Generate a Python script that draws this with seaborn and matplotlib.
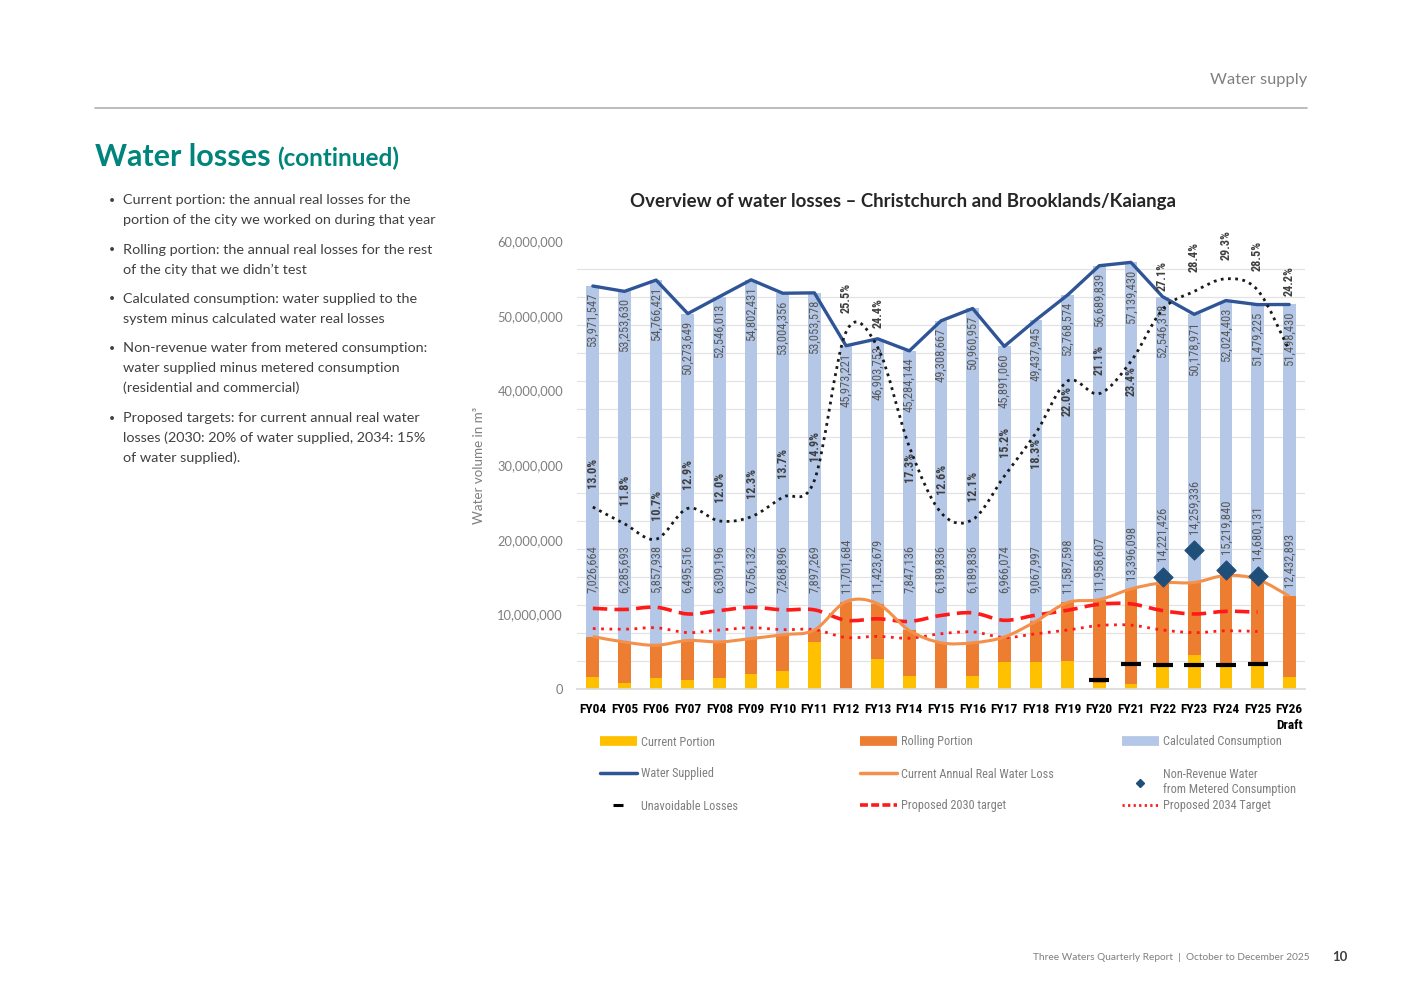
import numpy as np
import pandas as pd
import matplotlib
matplotlib.use("Agg")
import matplotlib.pyplot as plt
from matplotlib.path import Path
from matplotlib.patches import PathPatch
from matplotlib.lines import Line2D
from matplotlib.ticker import MultipleLocator, FuncFormatter
from matplotlib import font_manager as fm
import seaborn as sns

# ---------------- data ----------------
years = ["FY04", "FY05", "FY06", "FY07", "FY08", "FY09", "FY10", "FY11", "FY12",
         "FY13", "FY14", "FY15", "FY16", "FY17", "FY18", "FY19", "FY20", "FY21",
         "FY22", "FY23", "FY24", "FY25", "FY26\nDraft"]

water_supplied = [53971547, 53253630, 54766421, 50273649, 52546013, 54802431,
                  53004356, 53053578, 45973221, 46903753, 45284144, 49308667,
                  50960957, 45891060, 49437945, 52768574, 56689839, 57139430,
                  52546318, 50178971, 52024403, 51479225, 51498430]

real_loss = [7026664, 6285693, 5857938, 6495516, 6309196, 6756132, 7268896,
             7897269, 11701684, 11423679, 7847136, 6189836, 6189836, 6966074,
             9067997, 11587598, 11958607, 13396098, 14221426, 14259336,
             15219840, 14680131, 12432893]

current_portion = [1.65e6, 0.85e6, 1.5e6, 1.2e6, 1.5e6, 2.0e6, 2.45e6, 6.25e6,
                   0.0, 4.0e6, 1.8e6, 0.0, 1.8e6, 3.6e6, 3.6e6, 3.75e6, 0.8e6,
                   0.7e6, 3.0e6, 4.55e6, 3.0e6, 3.4e6, 1.55e6]

loss_pct = [13.0, 11.8, 10.7, 12.9, 12.0, 12.3, 13.7, 14.9, 25.5, 24.4, 17.3,
            12.6, 12.1, 15.2, 18.3, 22.0, 21.1, 23.4, 27.1, 28.4, 29.3, 28.5, 24.2]

nan = np.nan
non_revenue = [nan] * 18 + [15.0e6, 18.6e6, 15.9e6, 15.1e6, nan]
unavoidable = [nan] * 16 + [1.2e6, 3.35e6, 3.2e6, 3.2e6, 3.2e6, 3.35e6, nan]

target_2030 = [10.8e6, 10.65e6, 10.95e6, 10.05e6, 10.5e6, 10.95e6, 10.6e6, 10.6e6,
               9.2e6, 9.4e6, 9.05e6, 9.85e6, 10.2e6, 9.2e6, 9.9e6, 10.55e6,
               11.35e6, 11.4e6, 10.5e6, 10.05e6, 10.4e6, 10.3e6, nan]
target_2034 = [8.1e6, 8.0e6, 8.2e6, 7.55e6, 7.9e6, 8.2e6, 7.95e6, 7.95e6,
               6.9e6, 7.05e6, 6.8e6, 7.4e6, 7.65e6, 6.9e6, 7.4e6, 7.9e6,
               8.5e6, 8.55e6, 7.9e6, 7.55e6, 7.8e6, 7.7e6, nan]

df = pd.DataFrame({
    "year": years,
    "supplied": water_supplied,
    "loss": real_loss,
    "current": current_portion,
    "pct": loss_pct,
    "nrw": non_revenue,
    "unavoidable": unavoidable,
    "t2030": target_2030,
    "t2034": target_2034,
})
df["pos"] = np.arange(len(df))

# ---------------- styling ----------------
YELLOW = "#FFC000"
ORANGE_BAR = "#ED7D31"
LIGHT_BLUE = "#B4C7E7"
BLUE_LINE = "#2F5597"
ORANGE_LINE = "#F4904A"
NAVY = "#1F4E79"
RED = "#FF1A1A"
TEAL = "#00857C"

sns.set_theme(style="white")
names = {f.name for f in fm.fontManager.ttflist}
NARROW = next((n for n in ["Liberation Sans Narrow", "Roboto Condensed",
                           "Open Sans Condensed", "DejaVu Sans"] if n in names), "DejaVu Sans")
BODY = "Lato" if "Lato" in names else "DejaVu Sans"
plt.rcParams["font.family"] = [BODY, "DejaVu Sans"]

W, H = 1401, 991
fig = plt.figure(figsize=(W / 100, H / 100), dpi=100)
fig.patch.set_facecolor("white")


def fx(px):
    return px / W


def fy(py):
    return 1 - py / H


AX_L, AX_R, AX_B, AX_T = 577, 1305, 689, 241
ax = fig.add_axes([fx(AX_L), fy(AX_B), fx(AX_R) - fx(AX_L), fy(AX_T) - fy(AX_B)])
ax.set_facecolor("none")
AX_HPX = AX_B - AX_T

# ---------------- bars (stacked by overlay) ----------------
bw = 0.40
sns.barplot(data=df, x="year", y="supplied", order=years, color=LIGHT_BLUE,
            saturation=1, width=bw, errorbar=None, linewidth=0, ax=ax, zorder=2)
sns.barplot(data=df, x="year", y="loss", order=years, color=ORANGE_BAR,
            saturation=1, width=bw, errorbar=None, linewidth=0, ax=ax, zorder=2)
sns.barplot(data=df, x="year", y="current", order=years, color=YELLOW,
            saturation=1, width=bw, errorbar=None, linewidth=0, ax=ax, zorder=2)

YMAX = 60e6
PMAX = 32
ax.set_xlim(-0.5, len(years) - 0.5)
ax.set_ylim(0, YMAX)


# ---------------- smoothed lines ----------------
def smooth_path(xs, ys):
    pts = np.column_stack([xs, ys])
    pts = pts[~np.isnan(pts[:, 1])]
    verts = [pts[0]]
    codes = [Path.MOVETO]
    n = len(pts)
    for i in range(n - 1):
        p0 = pts[i - 1] if i > 0 else pts[i]
        p1 = pts[i]
        p2 = pts[i + 1]
        p3 = pts[i + 2] if i + 2 < n else pts[i + 1]
        c1 = p1 + (p2 - p0) / 6.0
        c2 = p2 - (p3 - p1) / 6.0
        verts += [c1, c2, p2]
        codes += [Path.CURVE4] * 3
    return Path(verts, codes)


def add_smooth(axis, xs, ys, **kw):
    patch = PathPatch(smooth_path(np.asarray(xs, float), np.asarray(ys, float)),
                      fill=False, **kw)
    axis.add_patch(patch)
    return patch


add_smooth(ax, df["pos"], df["t2030"], edgecolor=RED, lw=2.6,
           linestyle=(0, (4, 2)), capstyle="butt", zorder=4)
add_smooth(ax, df["pos"], df["t2034"], edgecolor=RED, lw=2.0,
           linestyle=(0, (1, 2)), zorder=4)
add_smooth(ax, df["pos"], df["loss"], edgecolor=ORANGE_LINE, lw=2.2, zorder=4)

sns.lineplot(x=df["pos"], y=df["supplied"], color=BLUE_LINE, lw=2.4, ax=ax,
             zorder=5, sort=False)

# markers
sns.scatterplot(x=df["pos"], y=df["nrw"], marker="D", s=95, color=NAVY,
                edgecolor=NAVY, ax=ax, zorder=6)
ax.plot(df["pos"], df["unavoidable"], ls="none", marker="_", ms=15, mew=3,
        color="black", zorder=6)

# ---------------- data labels ----------------
LBL = "#595959"
LBL_FS = 9.0
SUP_GAP = 5       # points below bar top
SUP_LEN = 56      # approx px length of supplied label
for i, r in df.iterrows():
    ax.annotate(f"{int(r.supplied):,}", xy=(r.pos, r.supplied), xytext=(0, -SUP_GAP),
                textcoords="offset points", rotation=90, ha="right", va="center",
                rotation_mode="anchor", fontsize=LBL_FS, color=LBL,
                family=[NARROW, "DejaVu Sans"], zorder=3)
    start = max(12.9e6, r.loss + 1.2e6)
    if not np.isnan(r.nrw):
        start = max(start, r.nrw + 2.2e6)
    ax.text(r.pos, start, f"{int(r.loss):,}", rotation=90, ha="left", va="center",
            rotation_mode="anchor", fontsize=LBL_FS, color=LBL,
            family=[NARROW, "DejaVu Sans"], zorder=3)

# ---------------- secondary axis: percentage ----------------
ax2 = ax.twinx()
ax2.set_ylim(0, PMAX)
ax2.set_yticks([])
for s in ax2.spines.values():
    s.set_visible(False)
add_smooth(ax2, df["pos"], df["pct"], edgecolor="#1a1a1a", lw=2.0,
           linestyle=(0, (1, 1.6)), zorder=5)

# percentage labels: above the point, moved away from the bar-top label
PCT_GAP = 19   # px
PCT_LEN = 28   # px
for i, r in df.iterrows():
    h_pt = r.pct / PMAX * AX_HPX
    h_top = r.supplied / YMAX * AX_HPX
    sup_hi = h_top - SUP_GAP * 1.39
    sup_lo = sup_hi - SUP_LEN
    lo, hi = h_pt + PCT_GAP, h_pt + PCT_GAP + PCT_LEN
    if hi > sup_lo - 4 and lo < sup_hi + 4:
        if h_pt < sup_lo:
            off_px = -(PCT_GAP - 12) - PCT_LEN   # below the point
            off_px = -7 - PCT_LEN
        else:
            off_px = (h_top + 8) - h_pt          # above the bar
    else:
        off_px = PCT_GAP
    ax2.annotate(f"{r.pct:.1f}%", xy=(r.pos, r.pct), xytext=(0, off_px * 0.72),
                 textcoords="offset points", rotation=90, ha="left", va="center",
                 rotation_mode="anchor", fontsize=8.8, fontweight="bold",
                 color="#404040", family=[NARROW, "DejaVu Sans"], zorder=6)

# ---------------- axes cosmetics ----------------
ax.yaxis.set_minor_locator(MultipleLocator(YMAX / 16))
ax.grid(which="minor", axis="y", color="#E3E3E3", lw=0.9, zorder=0)
ax.set_axisbelow(True)
ax.set_yticks(np.arange(0, YMAX + 1, 10e6))
ax.yaxis.set_major_formatter(FuncFormatter(lambda v, p: f"{v:,.0f}"))
ax.tick_params(axis="y", which="both", length=0, pad=10, labelsize=9.3,
               labelcolor="#7F7F7F")
ax.tick_params(axis="x", length=0, pad=10)
ax.set_xticks(range(len(years)))
ax.set_xticklabels(years, fontsize=9.6, fontweight="bold", color="black",
                   family=[NARROW, "DejaVu Sans"], linespacing=1.35)
ax.get_xticklabels()[-1].set_multialignment("right")
ax.set_xlabel("")
ax.set_ylabel("")
for k, s in ax.spines.items():
    s.set_visible(k == "bottom")
ax.spines["bottom"].set_color("#D9D9D9")

# ---------------- legend (one entry each, positioned in grid) ----------------
entries = [
    (Line2D([], [], color=YELLOW, lw=7, solid_capstyle="butt"), "Current Portion", 600, 742),
    (Line2D([], [], color=ORANGE_BAR, lw=7, solid_capstyle="butt"), "Rolling Portion", 860, 742),
    (Line2D([], [], color=LIGHT_BLUE, lw=7, solid_capstyle="butt"), "Calculated Consumption", 1122, 742),
    (Line2D([], [], color=BLUE_LINE, lw=2.5), "Water Supplied", 600, 774),
    (Line2D([], [], color=ORANGE_LINE, lw=2.5), "Current Annual Real Water Loss", 860, 774),
    (Line2D([], [], color=NAVY, ls="none", marker="D", ms=4.5),
     "Non-Revenue Water\nfrom Metered Consumption", 1122, 782),
    (Line2D([], [], color="black", ls="none", marker="_", ms=7, mew=2.2), "Unavoidable Losses", 600, 806),
    (Line2D([], [], color=RED, lw=2.6, ls=(0, (2.2, 0.9))), "Proposed 2030 target", 860, 806),
    (Line2D([], [], color=RED, lw=2.0, ls=(0, (0.8, 1.2))), "Proposed 2034 Target", 1122, 806),
]
for h, lab, px, py in entries:
    fig.legend(handles=[h], labels=[lab], loc="center left",
               bbox_to_anchor=(fx(px), fy(py)), frameon=False, borderpad=0,
               borderaxespad=0, handlelength=3.0, handletextpad=0.35,
               prop={"family": [NARROW, "DejaVu Sans"], "size": 8.8},
               labelcolor="#7F7F7F")

# ---------------- page text ----------------
fig.text(fx(1307), fy(80), "Water supply", ha="right", va="center", fontsize=11.8,
         color="#808080")
fig.add_artist(Line2D([fx(95), fx(1307)], [fy(108), fy(108)], color="#B0B0B0", lw=1.2))

t1 = fig.text(fx(95), fy(157), "Water losses", ha="left", va="center",
              fontsize=22, fontweight="bold", color=TEAL)
fig.canvas.draw()
bb = t1.get_window_extent()
fig.text((bb.x1 + 7) / W, fy(158), "(continued)", ha="left", va="center",
         fontsize=17.5, fontweight="bold", color=TEAL)

bullets = [
    [("Current portion: the annual real losses for the", 200),
     ("portion of the city we worked on during that year", 220)],
    [("Rolling portion: the annual real losses for the rest", 250),
     ("of the city that we didn\u2019t test", 270)],
    [("Calculated consumption: water supplied to the", 299),
     ("system minus calculated water real losses", 319)],
    [("Non-revenue water from metered consumption:", 348),
     ("water supplied minus metered consumption", 368),
     ("(residential and commercial)", 388)],
    [("Proposed targets: for current annual real water", 418),
     ("losses (2030: 20% of water supplied, 2034: 15%", 438),
     ("of water supplied).", 458)],
]
for group in bullets:
    fig.text(fx(109), fy(group[0][1]), "\u2022", ha="left", va="center",
             fontsize=7.5, color="#404040")
    for line, y in group:
        fig.text(fx(123), fy(y), line, ha="left", va="center", fontsize=10.4,
                 color="#404040")

fig.text(fx(903), fy(201), "Overview of water losses \u2013 Christchurch and Brooklands/Kaianga",
         ha="center", va="center", fontsize=13.4, fontweight="bold", color="#262626")
fig.text(fx(479), fy(465), "Water volume in m\u00b3", rotation=90, ha="center",
         va="center", fontsize=9.6, color="#7F7F7F")

fig.text(fx(1310), fy(958), "Three Waters Quarterly Report  |  October to December 2025",
         ha="right", va="center", fontsize=7.3, color="#7F7F7F")
fig.text(fx(1348), fy(957), "10", ha="right", va="center", fontsize=9.5,
         color="#404040", fontweight="bold")

fig.savefig("out.png", dpi=100, facecolor="white")
